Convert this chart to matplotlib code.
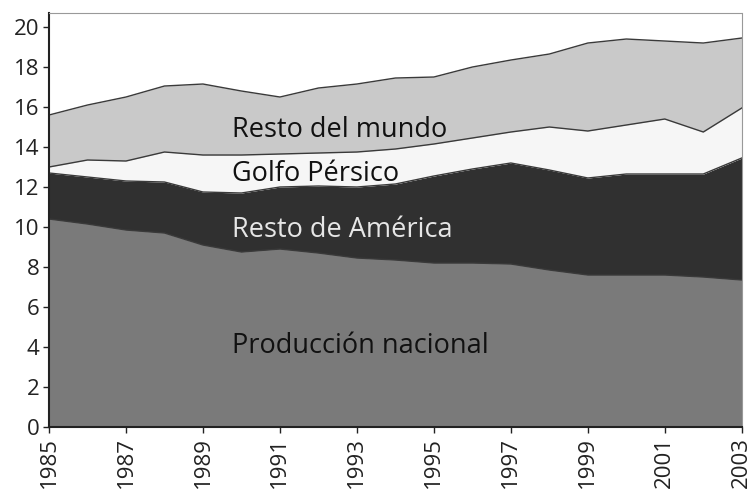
import numpy as np
import matplotlib
matplotlib.use("Agg")
import matplotlib.pyplot as plt

years = list(range(1985, 2004))
produccion = [10.4, 10.15, 9.85, 9.7, 9.1, 8.75, 8.9, 8.7, 8.45, 8.35, 8.2, 8.2, 8.15, 7.85, 7.6, 7.6, 7.6, 7.5, 7.35]
resto_america = [2.3, 2.35, 2.45, 2.55, 2.65, 2.95, 3.1, 3.35, 3.55, 3.8, 4.35, 4.7, 5.05, 5.0, 4.85, 5.05, 5.05, 5.15, 6.1]
golfo = [0.3, 0.85, 1.0, 1.5, 1.85, 1.9, 1.65, 1.65, 1.75, 1.75, 1.6, 1.55, 1.55, 2.15, 2.35, 2.45, 2.75, 2.1, 2.5]
resto_mundo = [2.6, 2.75, 3.2, 3.3, 3.55, 3.2, 2.85, 3.25, 3.4, 3.55, 3.35, 3.55, 3.6, 3.65, 4.4, 4.3, 3.9, 4.45, 3.5]

labels = ["Producción nacional", "Resto de América", "Golfo Pérsico", "Resto del mundo"]
colors = ["#7a7a7a", "#303030", "#f6f6f6", "#c9c9c9"]
label_colors = ["#111111", "#e6e6e6", "#111111", "#111111"]
label_y = [4.05, 9.85, 12.65, 14.85]

plt.rcParams["font.family"] = ["Open Sans", "DejaVu Sans"]

fig = plt.figure(figsize=(7.47, 4.95), dpi=100)
ax = fig.add_axes([0.0656, 0.1374, 0.9274, 0.8363])

series = [produccion, resto_america, golfo, resto_mundo]
base = np.zeros(len(years))
for vals, c in zip(series, colors):
    top = base + np.array(vals)
    ax.fill_between(years, base, top, color=c, linewidth=0)
    ax.plot(years, top, color="#3a3a3a", linewidth=1.0)
    base = top

for lab, y, c in zip(labels, label_y, label_colors):
    ax.text(1989.75, y, lab, fontsize=19.5, color=c, va="center", ha="left")

ax.set_xlim(1985, 2003)
ax.set_ylim(0, 20.7)
ax.set_yticks(range(0, 21, 2))
ax.set_xticks(range(1985, 2004, 2))
ax.set_xticklabels([str(y) for y in range(1985, 2004, 2)], rotation=90)
ax.tick_params(axis="both", labelsize=16, length=4, width=1, color="#222222", labelcolor="#222222")
ax.tick_params(axis="y", pad=3)
ax.tick_params(axis="x", pad=3)

ax.spines["left"].set_linewidth(1.5)
ax.spines["bottom"].set_linewidth(1.5)
ax.spines["left"].set_color("#222222")
ax.spines["bottom"].set_color("#222222")
ax.spines["top"].set_linestyle((0, (2, 1)))
ax.spines["top"].set_color("#999999")
ax.spines["right"].set_color("#999999")
ax.spines["right"].set_linewidth(0.8)

fig.savefig("out.png", dpi=100)
